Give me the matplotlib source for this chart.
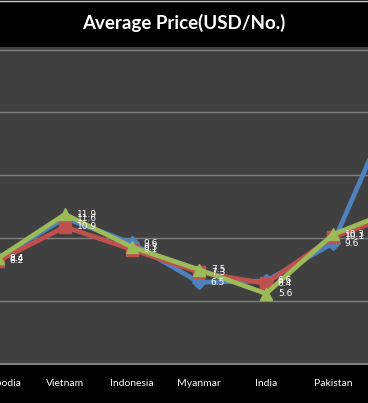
import matplotlib
matplotlib.use('Agg')
import matplotlib.pyplot as plt
import matplotlib.transforms as mtransforms
from matplotlib.lines import Line2D

# categories (the last one lies outside the visible crop)
countries = ['Cambodia', 'Vietnam', 'Indonesia', 'Myanmar', 'India', 'Pakistan', 'Sri Lanka']
blue_vals = [8.4, 11.6, 9.6, 6.5, 6.6, 9.6, 21.8]
red_vals = [8.2, 10.9, 9.1, 7.3, 6.4, 10.1, 12.0]
green_vals = [8.4, 11.9, 9.3, 7.5, 5.6, 10.3, 12.4]
y_ticks = [0, 5, 10, 15, 20, 25]

plt.rcParams['font.family'] = ['Lato', 'DejaVu Sans']

W, H = 368, 403
fig = plt.figure(figsize=(W / 100, H / 100), dpi=100, facecolor='black')

top_px, bot_px = 47, 364
ax = fig.add_axes([0, (H - bot_px) / H, 1, (bot_px - top_px) / H])
ax.set_facecolor('#404040')

x = list(range(len(countries)))
series = [
    (blue_vals, '#4F81BD', 'D', 7),
    (red_vals, '#C0504D', 's', 8),
    (green_vals, '#9BBB59', '^', 9),
]
for vals, col, mk, ms in series:
    ax.plot(x, vals, color=col, lw=3.4, marker=mk, markersize=ms,
            markerfacecolor=col, markeredgecolor=col, zorder=3)
    for xi, v in zip(x, vals):
        ax.annotate(f'{v:.1f}', (xi, v), xytext=(8.5, 0), textcoords='offset points',
                    ha='left', va='center', fontsize=6.5, color='white', zorder=5,
                    family=['DejaVu Sans'], annotation_clip=False)

ax.set_yticks(y_ticks)
ax.yaxis.grid(True, color='#808080', lw=1)
ax.set_axisbelow(True)
ax.tick_params(axis='y', left=False, labelleft=False)
ax.set_xticks([])
ax.set_xlim(2 / 67, 370 / 67)
ax.set_ylim(0, 25.2)

# category names under the plot, drawn as text so the cut-off ones still show
trans = mtransforms.blended_transform_factory(ax.transData, fig.transFigure)
for xi, name in zip(x, countries):
    ax.text(xi, 1 - 383 / H, name, transform=trans, ha='center', va='center',
            color='white', fontsize=7.5, clip_on=False)

for s in ['top', 'left', 'right']:
    ax.spines[s].set_visible(False)
ax.spines['bottom'].set_color('#808080')
ax.spines['bottom'].set_linewidth(1.5)

fig.text(0.5, 1 - 23 / H, 'Average Price(USD/No.)', ha='center', va='center',
         color='white', fontsize=13.5, fontweight='bold')
fig.add_artist(Line2D([0, 1], [1 - 0.5 / H, 1 - 0.5 / H], color='#d0d0d0', lw=1,
                      transform=fig.transFigure))

fig.savefig('out.png', dpi=100, facecolor='black')
